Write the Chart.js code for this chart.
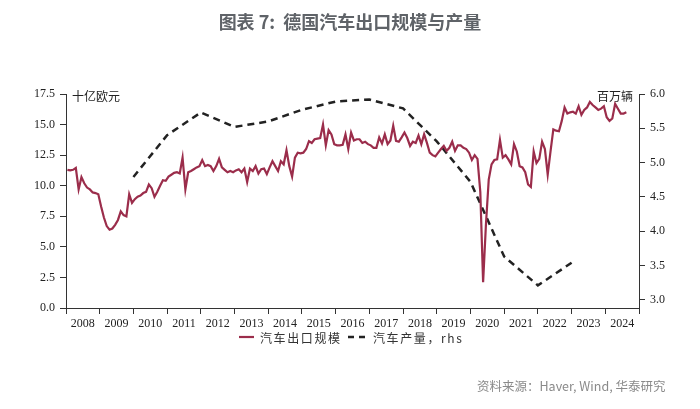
<!DOCTYPE html>
<html>
<head>
<meta charset="utf-8">
<script src="https://cdn.jsdelivr.net/npm/chart.js@4"></script>
<style>
  html, body { margin:0; padding:0; background:#fff; }
  #wrap { position:relative; width:700px; height:409px; overflow:hidden; }
  canvas { position:absolute; left:0; top:0; }
  .txt { position:absolute; white-space:nowrap; font-family:"Noto Sans CJK SC","Noto Sans",sans-serif; }
  #title { left:0; width:700px; top:8px; text-align:center; font-size:18px; font-weight:bold; color:#5f6368; }
  #src { left:477px; top:376px; font-size:12.5px; color:#8a8a8a; }
  .unit { font-size:12px; color:#222; top:87px; }
  .leg { font-size:12px; color:#333; top:329px; letter-spacing:1.6px; }
</style>
</head>
<body>
<div id="wrap">
  <canvas id="c" width="700" height="409"></canvas>
  <div class="txt" id="title">图表 7:&nbsp; 德国汽车出口规模与产量</div>
  <div class="txt unit" style="left:72px;">十亿欧元</div>
  <div class="txt unit" style="left:597px;">百万辆</div>
  <svg style="position:absolute;left:0;top:0" width="700" height="409">
    <line x1="239" y1="337" x2="254" y2="337" stroke="#9b2d4b" stroke-width="2.2"/>
    <line x1="348" y1="337" x2="369" y2="337" stroke="#222" stroke-width="2.5" stroke-dasharray="6,5"/>
  </svg>
  <div class="txt leg" style="left:260px;">汽车出口规模</div>
  <div class="txt leg" style="left:373px;">汽车产量，rhs</div>
  <div class="txt" id="src">资料来源：Haver, Wind, 华泰研究</div>
</div>
<script>
// Monthly German car exports, EUR bn, Jan 2008 - Aug 2024
const exportStartYear = 2008;
const exportValues = [
  11.3, 11.25, 11.3, 11.45, 9.7, 10.7, 10.2, 9.85, 9.7, 9.45, 9.4, 9.3,          // 2008
  8.3, 7.4, 6.7, 6.4, 6.5, 6.8, 7.2, 7.9, 7.6, 7.5, 9.3, 8.6,                    // 2009
  8.9, 9.1, 9.2, 9.4, 9.5, 10.1, 9.8, 9.1, 9.5, 10.0, 10.45, 10.4,               // 2010
  10.75, 10.9, 11.05, 11.1, 11.0, 12.3, 9.7, 11.1, 11.2, 11.35, 11.5, 11.6,      // 2011
  12.1, 11.6, 11.7, 11.6, 11.2, 11.6, 12.2, 11.5, 11.3, 11.1, 11.2, 11.1,        // 2012
  11.25, 11.35, 11.1, 11.4, 10.3, 11.4, 11.2, 11.6, 11.0, 11.35, 11.4, 10.95,    // 2013
  11.5, 12.0, 11.6, 11.2, 12.0, 11.75, 12.9, 11.6, 10.75, 12.3, 12.7, 12.65,     // 2014
  12.7, 13.0, 13.65, 13.5, 13.8, 13.85, 13.9, 15.0, 13.3, 14.55, 14.2, 13.4,     // 2015
  13.3, 13.3, 13.35, 14.2, 13.0, 14.35, 13.7, 13.8, 13.8, 13.5, 13.6, 13.4,      // 2016
  13.3, 13.1, 13.1, 13.95, 13.45, 14.2, 13.4, 13.7, 14.9, 13.67, 13.6, 13.95,    // 2017
  14.35, 13.9, 13.25, 13.6, 13.5, 14.1, 13.4, 14.2, 13.5, 12.7, 12.5, 12.4,      // 2018
  12.7, 13.0, 13.25, 12.85, 13.1, 13.6, 12.85, 13.3, 13.3, 13.1, 13.0, 12.7,     // 2019
  12.1, 12.5, 12.2, 9.5, 2.1, 6.8, 10.5, 11.75, 12.1, 12.15, 13.75, 12.3,        // 2020
  12.5, 12.15, 11.75, 13.4, 12.8, 11.6, 11.5, 11.1, 10.1, 9.9, 12.8, 11.85,      // 2021
  12.2, 13.6, 13.0, 10.9, 12.8, 14.6, 14.5, 14.45, 15.3, 16.4, 15.9, 16.0,       // 2022
  16.05, 15.9, 16.5, 15.8, 16.2, 16.4, 16.85, 16.6, 16.4, 16.2, 16.3, 16.5,      // 2023
  15.6, 15.3, 15.5, 16.7, 16.3, 15.9, 15.9, 16.0                                  // 2024
];
// Annual German car production, million units (plotted at year end)
const prodYears  = [2009, 2010, 2011, 2012, 2013, 2014, 2015, 2016, 2017, 2018, 2019, 2020, 2021, 2022];
const prodValues = [4.79, 5.40, 5.73, 5.52, 5.60, 5.77, 5.89, 5.92, 5.79, 5.31, 4.72, 3.63, 3.21, 3.54];

const leftTicks  = [0, 2.5, 5, 7.5, 10, 12.5, 15, 17.5];
const rightTicks = [3.0, 3.5, 4.0, 4.5, 5.0, 5.5, 6.0];
const xYears = [2008, 2009, 2010, 2011, 2012, 2013, 2014, 2015, 2016, 2017, 2018, 2019, 2020, 2021, 2022, 2023, 2024];

const exportPts = exportValues.map((v, i) => ({ x: exportStartYear + (i + 0.5) / 12, y: v }));
const prodPts = prodValues.map((v, i) => ({ x: prodYears[i] + 1, y: v }));

const tickFont = { family: '"Liberation Serif", "Times New Roman", serif', size: 12 };
const axisColor = '#333';

new Chart(document.getElementById('c'), {
  type: 'line',
  data: {
    datasets: [
      { label: '汽车出口规模', data: exportPts, yAxisID: 'y', borderColor: '#9b2d4b', borderWidth: 2.2,
        pointRadius: 0, tension: 0, fill: false },
      { label: '汽车产量，rhs', data: prodPts, yAxisID: 'y1', borderColor: '#222', borderWidth: 2.5,
        borderDash: [7, 5], pointRadius: 0, tension: 0, fill: false }
    ]
  },
  options: {
    responsive: false,
    animation: false,
    events: [],
    layout: { padding: { top: 94, left: 0, right: 0, bottom: 0 } },
    plugins: { legend: { display: false }, title: { display: false }, tooltip: { enabled: false } },
    scales: {
      x: {
        type: 'linear', position: 'bottom', min: 2008, max: 2025,
        border: { display: true, color: axisColor, width: 1 },
        grid: { drawOnChartArea: false, drawTicks: true, tickLength: 6,
                tickColor: ctx => (ctx.tick && Number.isInteger(ctx.tick.value)) ? axisColor : 'rgba(0,0,0,0)' },
        afterBuildTicks: s => {
          const t = [];
          xYears.forEach(y => { t.push({ value: y }); t.push({ value: y + 0.5 }); });
          t.push({ value: 2025 });
          s.ticks = t;
        },
        ticks: { autoSkip: false, maxRotation: 0, minRotation: 0, padding: 3, color: '#222', font: tickFont,
                 callback: v => (Math.abs(v % 1 - 0.5) < 1e-6 ? String(Math.floor(v)) : '') },
        afterFit: s => { s.height = 101; }
      },
      y: {
        position: 'left', min: 0, max: 17.5,
        border: { display: true, color: axisColor, width: 1 },
        grid: { drawOnChartArea: false, tickLength: 6, tickColor: axisColor },
        afterBuildTicks: s => { s.ticks = leftTicks.map(v => ({ value: v })); },
        ticks: { padding: 5, color: '#222', font: tickFont, callback: v => Number(v).toFixed(1) },
        afterFit: s => { s.width = 66; }
      },
      y1: {
        position: 'right', min: 2.88, max: 6.0,
        border: { display: true, color: axisColor, width: 1 },
        grid: { drawOnChartArea: false, tickLength: 6, tickColor: axisColor },
        afterBuildTicks: s => { s.ticks = rightTicks.map(v => ({ value: v })); },
        ticks: { padding: 5, color: '#222', font: tickFont, callback: v => Number(v).toFixed(1) },
        afterFit: s => { s.width = 61; }
      }
    }
  }
});
</script>
</body>
</html>
